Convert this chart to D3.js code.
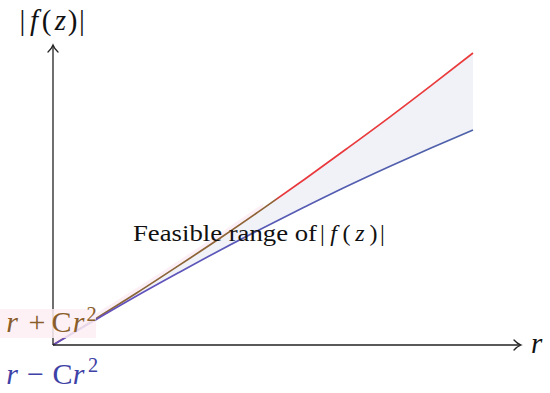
<!DOCTYPE html>
<html>
<head>
<meta charset="utf-8">
<script src="https://cdn.jsdelivr.net/npm/d3@7/dist/d3.min.js"></script>
<style>
html,body{margin:0;padding:0;background:#fff;}
svg{display:block;}
text{font-family:"Liberation Serif","DejaVu Serif",serif;}
</style>
</head>
<body>
<svg id="chart" width="550" height="393"></svg>
<script>
// Data (r on the horizontal axis, |f(z)| bounds vertically)
const rValues     = [0, 0.1, 0.2, 0.3, 0.4, 0.5, 0.6, 0.7, 0.8, 0.9, 1.0];
const upperValues = [0, 0.102, 0.206, 0.314, 0.424, 0.538, 0.655, 0.775, 0.897, 1.023, 1.152];
const lowerValues = [0, 0.098, 0.194, 0.286, 0.376, 0.462, 0.545, 0.626, 0.703, 0.777, 0.848];
const xAxisLabel = "r";
const regionWords = "Feasible range of";

const svg = d3.select("#chart");
const x = d3.scaleLinear().domain([0, 1]).range([53, 473]);
const y = d3.scaleLinear().domain([0, 1]).range([345, 91.5]);

const pts = rValues.map((r, i) => ({r, u: upperValues[i], l: lowerValues[i]}));

// faint pink haze near the lower-left part of the upper curve
const pinkPts = pts.filter(d => d.r <= 0.55);
svg.append("path")
  .datum(pinkPts)
  .attr("d", d3.area().curve(d3.curveMonotoneX)
    .x(d => x(d.r)).y0(d => y(d.u)).y1(d => y(d.u) - 5))
  .attr("fill", "#fbe8f2").attr("opacity", 0.7);

// feasible region
svg.append("path")
  .datum(pts)
  .attr("d", d3.area().curve(d3.curveMonotoneX)
    .x(d => x(d.r)).y0(d => y(d.l)).y1(d => y(d.u)))
  .attr("fill", "#f1f1f8");

const defs = svg.append("defs");
const gU = defs.append("linearGradient").attr("id", "gU")
  .attr("gradientUnits", "userSpaceOnUse")
  .attr("x1", x(0)).attr("x2", x(1)).attr("y1", 0).attr("y2", 0);
gU.append("stop").attr("offset", "0%").attr("stop-color", "#86683a");
gU.append("stop").attr("offset", "52.5%").attr("stop-color", "#8f6234");
gU.append("stop").attr("offset", "54%").attr("stop-color", "#e8383c");
gU.append("stop").attr("offset", "100%").attr("stop-color", "#ea3b3b");

const gL = defs.append("linearGradient").attr("id", "gL")
  .attr("gradientUnits", "userSpaceOnUse")
  .attr("x1", x(0)).attr("x2", x(1)).attr("y1", 0).attr("y2", 0);
gL.append("stop").attr("offset", "0%").attr("stop-color", "#6a4cc0");
gL.append("stop").attr("offset", "40%").attr("stop-color", "#5a58b8");
gL.append("stop").attr("offset", "100%").attr("stop-color", "#4d62a8");

const lineU = d3.line().curve(d3.curveMonotoneX).x(d => x(d.r)).y(d => y(d.u));
const lineL = d3.line().curve(d3.curveMonotoneX).x(d => x(d.r)).y(d => y(d.l));

svg.append("path").datum(pts).attr("d", lineU)
  .attr("fill", "none").attr("stroke", "url(#gU)").attr("stroke-width", 1.7);
svg.append("path").datum(pts).attr("d", lineL)
  .attr("fill", "none").attr("stroke", "url(#gL)").attr("stroke-width", 1.7);

// axes
const ax = svg.append("g").attr("stroke", "#222").attr("stroke-width", 1.3).attr("fill", "none");
ax.append("line").attr("x1", x(0)).attr("y1", y(0)).attr("x2", 520).attr("y2", y(0));
ax.append("line").attr("x1", x(0)).attr("y1", y(0)).attr("x2", x(0)).attr("y2", 46);
ax.append("path").attr("d", `M${514},${y(0)-5} Q${517},${y(0)-1.5} ${521},${y(0)} Q${517},${y(0)+1.5} ${514},${y(0)+5}`)
  .attr("stroke-linecap", "round");
ax.append("path").attr("d", `M${x(0)-5},${52} Q${x(0)-1.5},${49} ${x(0)},${45} Q${x(0)+1.5},${49} ${x(0)+5},${52}`)
  .attr("stroke-linecap", "round");

// helper to place math pieces centred at given x: [text, cx, italic, dy, sizeScale]
function mathText(g, pieces, baseY, size, color) {
  pieces.forEach(p => {
    g.append("text")
      .attr("x", p[1]).attr("y", baseY + (p[3] || 0))
      .attr("text-anchor", "middle")
      .attr("font-size", size * (p[4] || 1))
      .attr("font-style", p[2] ? "italic" : "normal")
      .attr("fill", color)
      .text(p[0]);
  });
}

svg.append("text").attr("x", 531).attr("y", 353)
  .attr("font-size", 29).attr("font-style", "italic").attr("fill", "#111").text(xAxisLabel);

// |f(z)| axis label
mathText(svg.append("g"), [
  ["|", 22.5, false], ["f", 34, true], ["(", 46.5, false], ["z", 60.5, true], [")", 72.5, false], ["|", 82, false]
], 30, 29, "#111");

// region label
svg.append("text").attr("x", 133).attr("y", 241)
  .attr("font-size", 24).attr("fill", "#111")
  .attr("textLength", 184).attr("lengthAdjust", "spacingAndGlyphs")
  .text(regionWords);
mathText(svg.append("g"), [
  ["|", 322.5, false], ["f", 333.5, true], ["(", 346.5, false], ["z", 360, true], [")", 373.5, false], ["|", 382.5, false]
], 241, 24, "#111");

// bound labels
svg.append("rect").attr("x", 0).attr("y", 309).attr("width", 96).attr("height", 29)
  .attr("fill", "#fdeef4").attr("opacity", 0.85);
mathText(svg.append("g"), [
  ["r", 12, true], ["+", 37, false], ["C", 61.5, false], ["r", 78.5, true], ["2", 91.5, false, -11, 0.68]
], 332, 30, "#8a5e2a");
mathText(svg.append("g"), [
  ["r", 12, true], ["\u2212", 35.5, false], ["C", 62.5, false], ["r", 78.5, true], ["2", 93, false, -12, 0.68]
], 384, 30, "#3e42a6");
</script>
</body>
</html>
